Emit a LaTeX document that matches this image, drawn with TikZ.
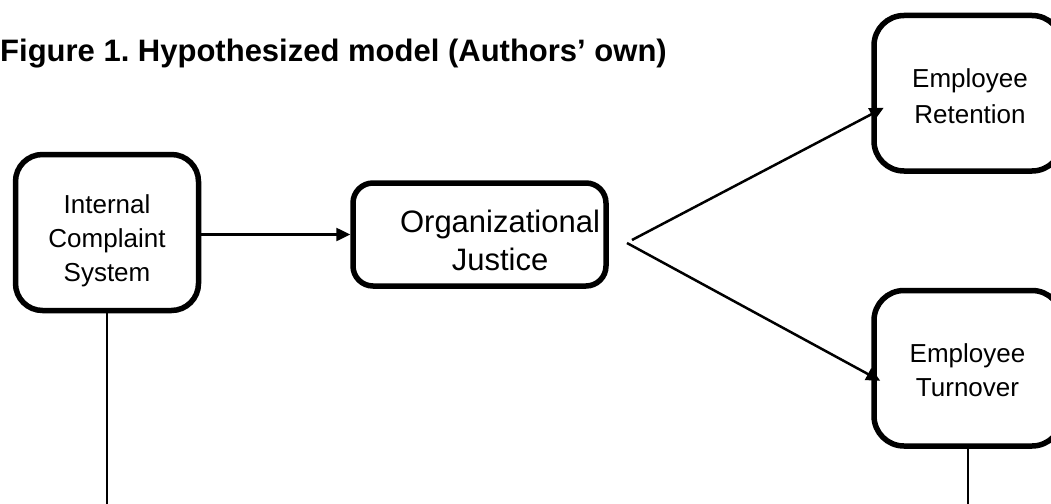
\documentclass[tikz,border=0pt]{standalone}
\usepackage{fontspec}
\setmainfont{Liberation Sans}
\usetikzlibrary{arrows.meta,calc}
\frenchspacing

\begin{document}
\begin{tikzpicture}[x=1pt,y=-1pt,inner sep=0pt,
	box/.style={draw,line width=5.5pt,rounded corners=#1},
	box/.default=25pt,
	lbl/.style={align=center,font=\fontsize{26}{34}\selectfont},
	link/.style={line width=2.5pt},
	arr/.style={link,-{Triangle[length=14pt,width=13pt]}}]
	
	\useasboundingbox (0,0) rectangle (1051,503);
	\clip (0,0) rectangle (1051,503);
	
	\node at (0,61) [anchor=base west,font=\fontsize{31}{37}\selectfont\bfseries] (title) {Figure 1. Hypothesized model (Authors’ own)};
	
	\node at (107,232.5) [box=27pt,minimum width=183,minimum height=156] (ics) {};
	\node at (479.5,234.5) [box=20pt,minimum width=253,minimum height=103] (oj) {};
	\node at (968,93.25) [box=30pt,minimum width=188,minimum height=155.5] (er) {};
	\node at (968,368.25) [box=30pt,minimum width=188,minimum height=155.5] (et) {};
	
	\node at (107,241) [lbl] (icstext) {Internal\\Complaint\\System};
	\node at (500,240) [lbl,font=\fontsize{31}{38}\selectfont] (ojtext) {Organizational\\Justice};
	\node at (970,96.7) [lbl,font=\fontsize{26}{36}\selectfont] (ertext) {Employee\\Retention};
	\node at (967.5,370.7) [lbl] (ettext) {Employee\\Turnover};
	
	\coordinate (forkup) at (632,240);
	\coordinate (forkdown) at (627,243);
	\coordinate (icsend) at (ics.south |- 0,510);
	\coordinate (etend) at (et.south |- 0,510);
	
	\path
	(ics.east |- oj.west) edge[arr] (oj.west)
	(forkup) edge[arr] ([shift={(12.5,-66)}]er.south west)
	(forkdown) edge[arr] ([shift={(9,-68)}]et.south west)
	
	(ics.south) edge[link] (icsend)
	(et.south) edge[link] (etend)
	;
	
\end{tikzpicture}
\end{document}
